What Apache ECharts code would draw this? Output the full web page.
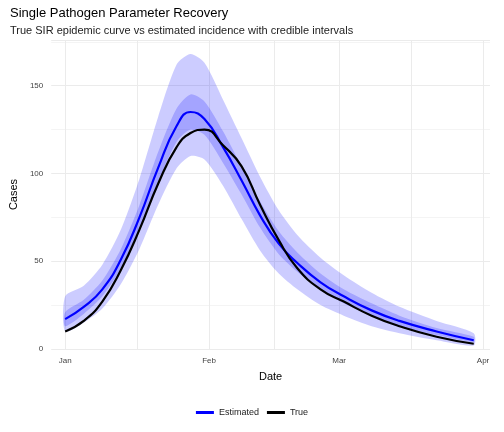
<!DOCTYPE html>
<html><head><meta charset="utf-8">
<script src="https://cdn.jsdelivr.net/npm/echarts@6/dist/echarts.min.js"></script>
<style>html,body{margin:0;background:#fff}#c{width:504px;height:432px}</style>
</head><body><div id="c"></div>
<script>
// day offsets from Jan 1
var days = [0, 4, 8, 12, 16, 20, 24, 27, 30, 34, 38, 42, 46, 50, 55, 60, 66, 72, 80, 88];
var trueCases = [10, 16, 27, 45, 68, 94, 115, 123, 125, 116, 104, 82, 62, 46, 34, 27, 19, 13, 7, 3];
var estimated = [17, 24, 34, 51, 75, 103, 127, 135, 131, 115, 96, 76, 60, 49, 38, 30, 22, 16, 10, 5];
var outerLow = [10, 15, 23, 37, 57, 82, 103, 110, 108, 93, 74, 56, 43, 34, 25, 19, 13, 9, 5, 2];
var outerHigh = [30, 36, 48, 68, 97, 132, 162, 168, 163, 142, 120, 98, 79, 65, 52, 42, 32, 24, 16, 9];
var innerLow = [13, 20, 30, 46, 69, 95, 118, 125, 122, 106, 88, 69, 54, 44, 34, 26, 19, 13, 8, 4];
var innerHigh = [21, 28, 39, 57, 82, 112, 137, 145, 141, 124, 104, 84, 67, 55, 43, 34, 26, 19, 12, 7];
var monthDays = [0, 31, 59, 90];
var monthNames = ['Jan', 'Feb', 'Mar', 'Apr'];
var gridDays = [0, 15.5, 31, 45, 59, 74.5, 90];

function pts(arr) { return days.map(function (d, i) { return [d, arr[i]]; }); }

var chart = echarts.init(document.getElementById('c'));

// ribbon between low and high, drawn as one polygon through the axis scales
function band(low, high, z) {
  return {
    type: 'custom', silent: true, z: z, data: [0],
    renderItem: function (params, api) {
      var points = [];
      days.forEach(function (d, i) { points.push(api.coord([d, high[i]])); });
      for (var i = days.length - 1; i >= 0; i--) points.push(api.coord([days[i], low[i]]));
      return {
        type: 'polygon',
        shape: { points: points, smooth: 0.25 },
        style: { fill: 'rgba(0,0,255,0.2)' }
      };
    }
  };
}

chart.setOption({
  animation: false,
  title: {
    text: 'Single Pathogen Parameter Recovery',
    subtext: 'True SIR epidemic curve vs estimated incidence with credible intervals',
    left: 5, top: 2, itemGap: 5,
    textStyle: { fontSize: 13, fontWeight: 'normal', color: '#000', fontFamily: 'Liberation Sans' },
    subtextStyle: { fontSize: 11, color: '#222', fontFamily: 'Liberation Sans' }
  },
  legend: {
    bottom: 10, left: 'center', itemWidth: 18, itemHeight: 3,
    data: [{ name: 'Estimated', icon: 'rect' }, { name: 'True', icon: 'rect' }],
    textStyle: { fontSize: 9, color: '#222' }
  },
  grid: { left: 45, right: 14, top: 40, bottom: 83 },
  xAxis: {
    type: 'value', min: -3, max: 91.5,
    name: 'Date', nameLocation: 'middle', nameGap: 22,
    nameTextStyle: { fontSize: 11, color: '#000' },
    axisLine: { show: false }, axisTick: { show: false }, splitLine: { show: false },
    axisLabel: {
      customValues: monthDays, fontSize: 8, color: '#444',
      formatter: function (v) { return monthNames[monthDays.indexOf(v)]; }
    }
  },
  yAxis: {
    type: 'value', min: 0, max: 176, interval: 50,
    name: 'Cases', nameLocation: 'middle', nameGap: 28,
    nameTextStyle: { fontSize: 11, color: '#000' },
    axisLine: { show: false }, axisTick: { show: false },
    axisLabel: { fontSize: 8, color: '#444', showMaxLabel: false },
    splitLine: { lineStyle: { color: '#ebebeb' } },
    minorTick: { show: false, splitNumber: 2 },
    minorSplitLine: { show: true, lineStyle: { color: '#f4f4f4' } }
  },
  series: [
    {
      type: 'line', data: [], silent: true, z: 0,
      markLine: {
        symbol: 'none', label: { show: false }, silent: true, z: 0,
        lineStyle: { color: '#ebebeb', type: 'solid', width: 1 },
        data: gridDays.map(function (d) { return { xAxis: d }; })
      }
    },
    band(outerLow, outerHigh, 1),
    band(innerLow, innerHigh, 2),
    {
      name: 'Estimated', type: 'line', data: pts(estimated), smooth: true, symbol: 'none', z: 3,
      lineStyle: { color: '#0000ff', width: 2.2 }, itemStyle: { color: '#0000ff' }
    },
    {
      name: 'True', type: 'line', data: pts(trueCases), smooth: true, symbol: 'none', z: 4,
      lineStyle: { color: '#000', width: 2.2 }, itemStyle: { color: '#000' }
    }
  ]
});
</script></body></html>
